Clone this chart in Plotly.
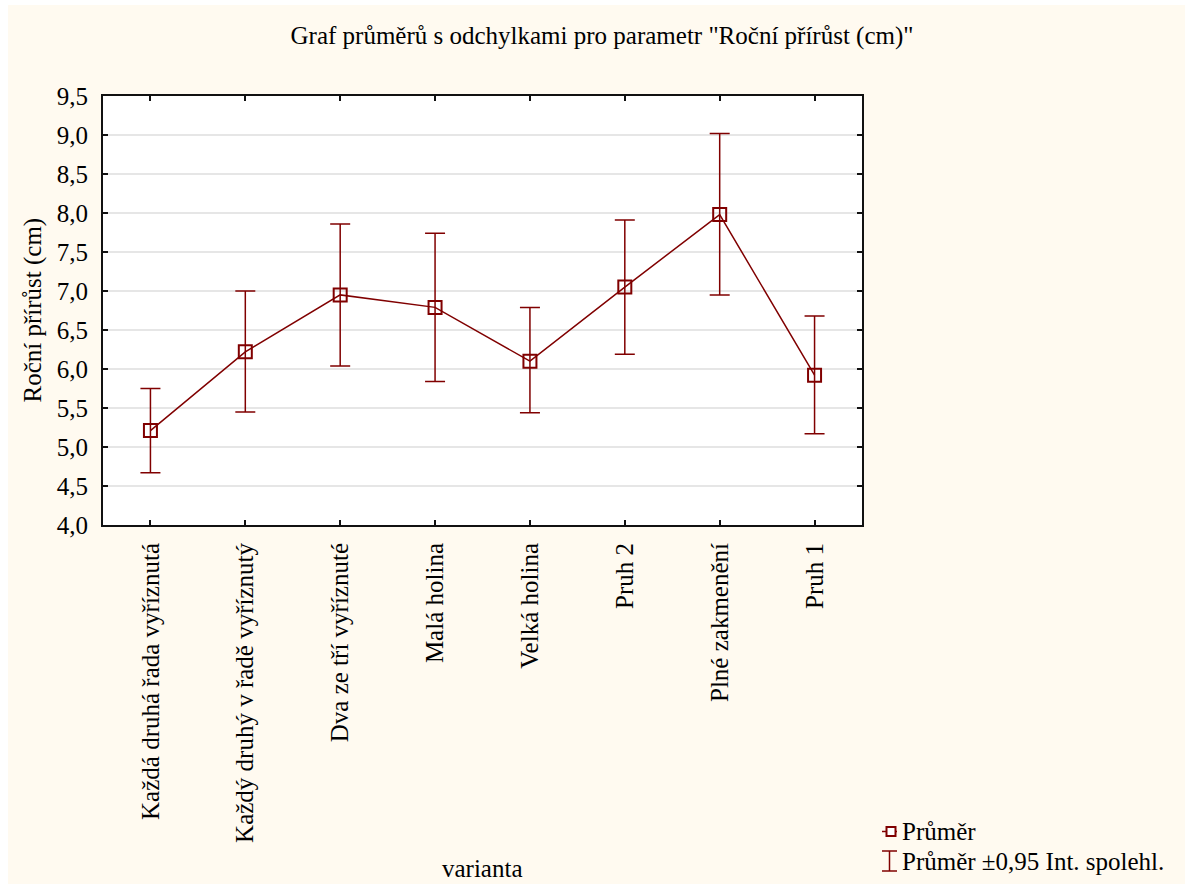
import plotly.graph_objects as go

# Categories of the experiment variants
varianty = [
    "Každá druhá řada vyříznutá",
    "Každý druhý v řadě vyříznutý",
    "Dva ze tří vyříznuté",
    "Malá holina",
    "Velká holina",
    "Pruh 2",
    "Plné zakmenění",
    "Pruh 1",
]

# Mean annual growth (cm) and 95 % confidence limits
prumer = [5.21, 6.22, 6.95, 6.79, 6.10, 7.05, 7.98, 5.92]
horni_mez = [5.75, 7.00, 7.86, 7.74, 6.79, 7.91, 9.02, 6.68]
dolni_mez = [4.67, 5.45, 6.04, 5.84, 5.44, 6.19, 6.95, 5.17]

y_ticks = [4.0, 4.5, 5.0, 5.5, 6.0, 6.5, 7.0, 7.5, 8.0, 8.5, 9.0, 9.5]

DARK_RED = "#800000"
CREAM = "#FFFAF0"
FONT = "Liberation Serif, Times New Roman, serif"
FS = 25

W, H = 1185, 884
M_L, M_R, M_T, M_B = 103, 323, 96, 359
PW = W - M_L - M_R
PH = H - M_T - M_B


def px_x(px):
    return (px - M_L) / PW


def px_y(py):
    return (H - M_B - py) / PH


err_plus = [h - m for h, m in zip(horni_mez, prumer)]
err_minus = [m - d for m, d in zip(prumer, dolni_mez)]

fig = go.Figure()
fig.add_trace(
    go.Scatter(
        x=list(range(len(varianty))),
        y=prumer,
        mode="lines+markers",
        name="Průměr",
        line=dict(color=DARK_RED, width=1.5),
        marker=dict(symbol="square-open", size=13, color=DARK_RED,
                    line=dict(width=2, color=DARK_RED)),
        error_y=dict(type="data", symmetric=False, array=err_plus,
                     arrayminus=err_minus, color=DARK_RED,
                     thickness=1.5, width=10),
        showlegend=False,
    )
)

axis_common = dict(
    showline=True, linecolor="#111111", linewidth=2, mirror="ticks",
    ticks="inside", ticklen=5, tickcolor="#111111", tickwidth=1.5,
    tickfont=dict(family=FONT, size=FS, color="black"),
)

fig.update_xaxes(
    tickmode="array",
    tickvals=list(range(len(varianty))),
    ticktext=varianty,
    tickangle=-90,
    range=[-0.5, len(varianty) - 0.5],
    showgrid=False,
    zeroline=False,
    ticklabelstandoff=6,
    **axis_common,
)
fig.update_yaxes(
    tickmode="array",
    tickvals=y_ticks,
    tickformat=".1f",
    range=[4.0, 9.5],
    showgrid=True,
    gridcolor="#E6E6E6",
    gridwidth=1.5,
    zeroline=False,
    ticklabelstandoff=8,
    **axis_common,
)

shapes = [
    # white strips along the top and left edges of the page
    dict(type="rect", xref="paper", yref="paper",
         x0=px_x(0), x1=px_x(W), y0=px_y(5), y1=px_y(0),
         fillcolor="white", line=dict(width=0), layer="below"),
    dict(type="rect", xref="paper", yref="paper",
         x0=px_x(0), x1=px_x(8), y0=px_y(H), y1=px_y(0),
         fillcolor="white", line=dict(width=0), layer="below"),
    # legend symbol: mean marker with short line stubs
    dict(type="line", xref="paper", yref="paper",
         x0=px_x(882), x1=px_x(897), y0=px_y(831.5), y1=px_y(831.5),
         line=dict(color=DARK_RED, width=1.5)),
    dict(type="rect", xref="paper", yref="paper",
         x0=px_x(886.5), x1=px_x(895.5), y0=px_y(836), y1=px_y(827),
         fillcolor="white", line=dict(color=DARK_RED, width=2)),
    # legend symbol: confidence interval bar
    dict(type="line", xref="paper", yref="paper",
         x0=px_x(889.5), x1=px_x(889.5), y0=px_y(851), y1=px_y(871),
         line=dict(color=DARK_RED, width=1.5)),
    dict(type="line", xref="paper", yref="paper",
         x0=px_x(882), x1=px_x(897), y0=px_y(851), y1=px_y(851),
         line=dict(color=DARK_RED, width=1.5)),
    dict(type="line", xref="paper", yref="paper",
         x0=px_x(882), x1=px_x(897), y0=px_y(871), y1=px_y(871),
         line=dict(color=DARK_RED, width=1.5)),
]

annotations = [
    dict(text="Roční přírůst (cm)", xref="paper", yref="paper",
         x=px_x(32), y=0.5, textangle=-90, showarrow=False,
         xanchor="center", yanchor="middle",
         font=dict(family=FONT, size=FS, color="black")),
    dict(text="varianta", xref="paper", yref="paper",
         x=0.5, y=px_y(868), showarrow=False,
         xanchor="center", yanchor="middle",
         font=dict(family=FONT, size=FS, color="black")),
    dict(text="Průměr", xref="paper", yref="paper",
         x=px_x(900), y=px_y(831), showarrow=False,
         xanchor="left", yanchor="middle",
         font=dict(family=FONT, size=FS, color="black")),
    dict(text="Průměr ±0,95 Int. spolehl.", xref="paper", yref="paper",
         x=px_x(900), y=px_y(861), showarrow=False,
         xanchor="left", yanchor="middle",
         font=dict(family=FONT, size=FS, color="black")),
]

fig.update_layout(
    width=W,
    height=H,
    margin=dict(l=M_L, r=M_R, t=M_T, b=M_B, autoexpand=False),
    paper_bgcolor=CREAM,
    plot_bgcolor="white",
    separators=", ",
    title=dict(
        text='Graf průměrů s odchylkami pro parametr "Roční přírůst (cm)"',
        x=602 / W, xanchor="center", xref="container",
        y=1 - 35 / H, yanchor="middle",
        font=dict(family=FONT, size=FS, color="black"),
    ),
    shapes=shapes,
    annotations=annotations,
    showlegend=False,
)

fig.write_html("out.html")
